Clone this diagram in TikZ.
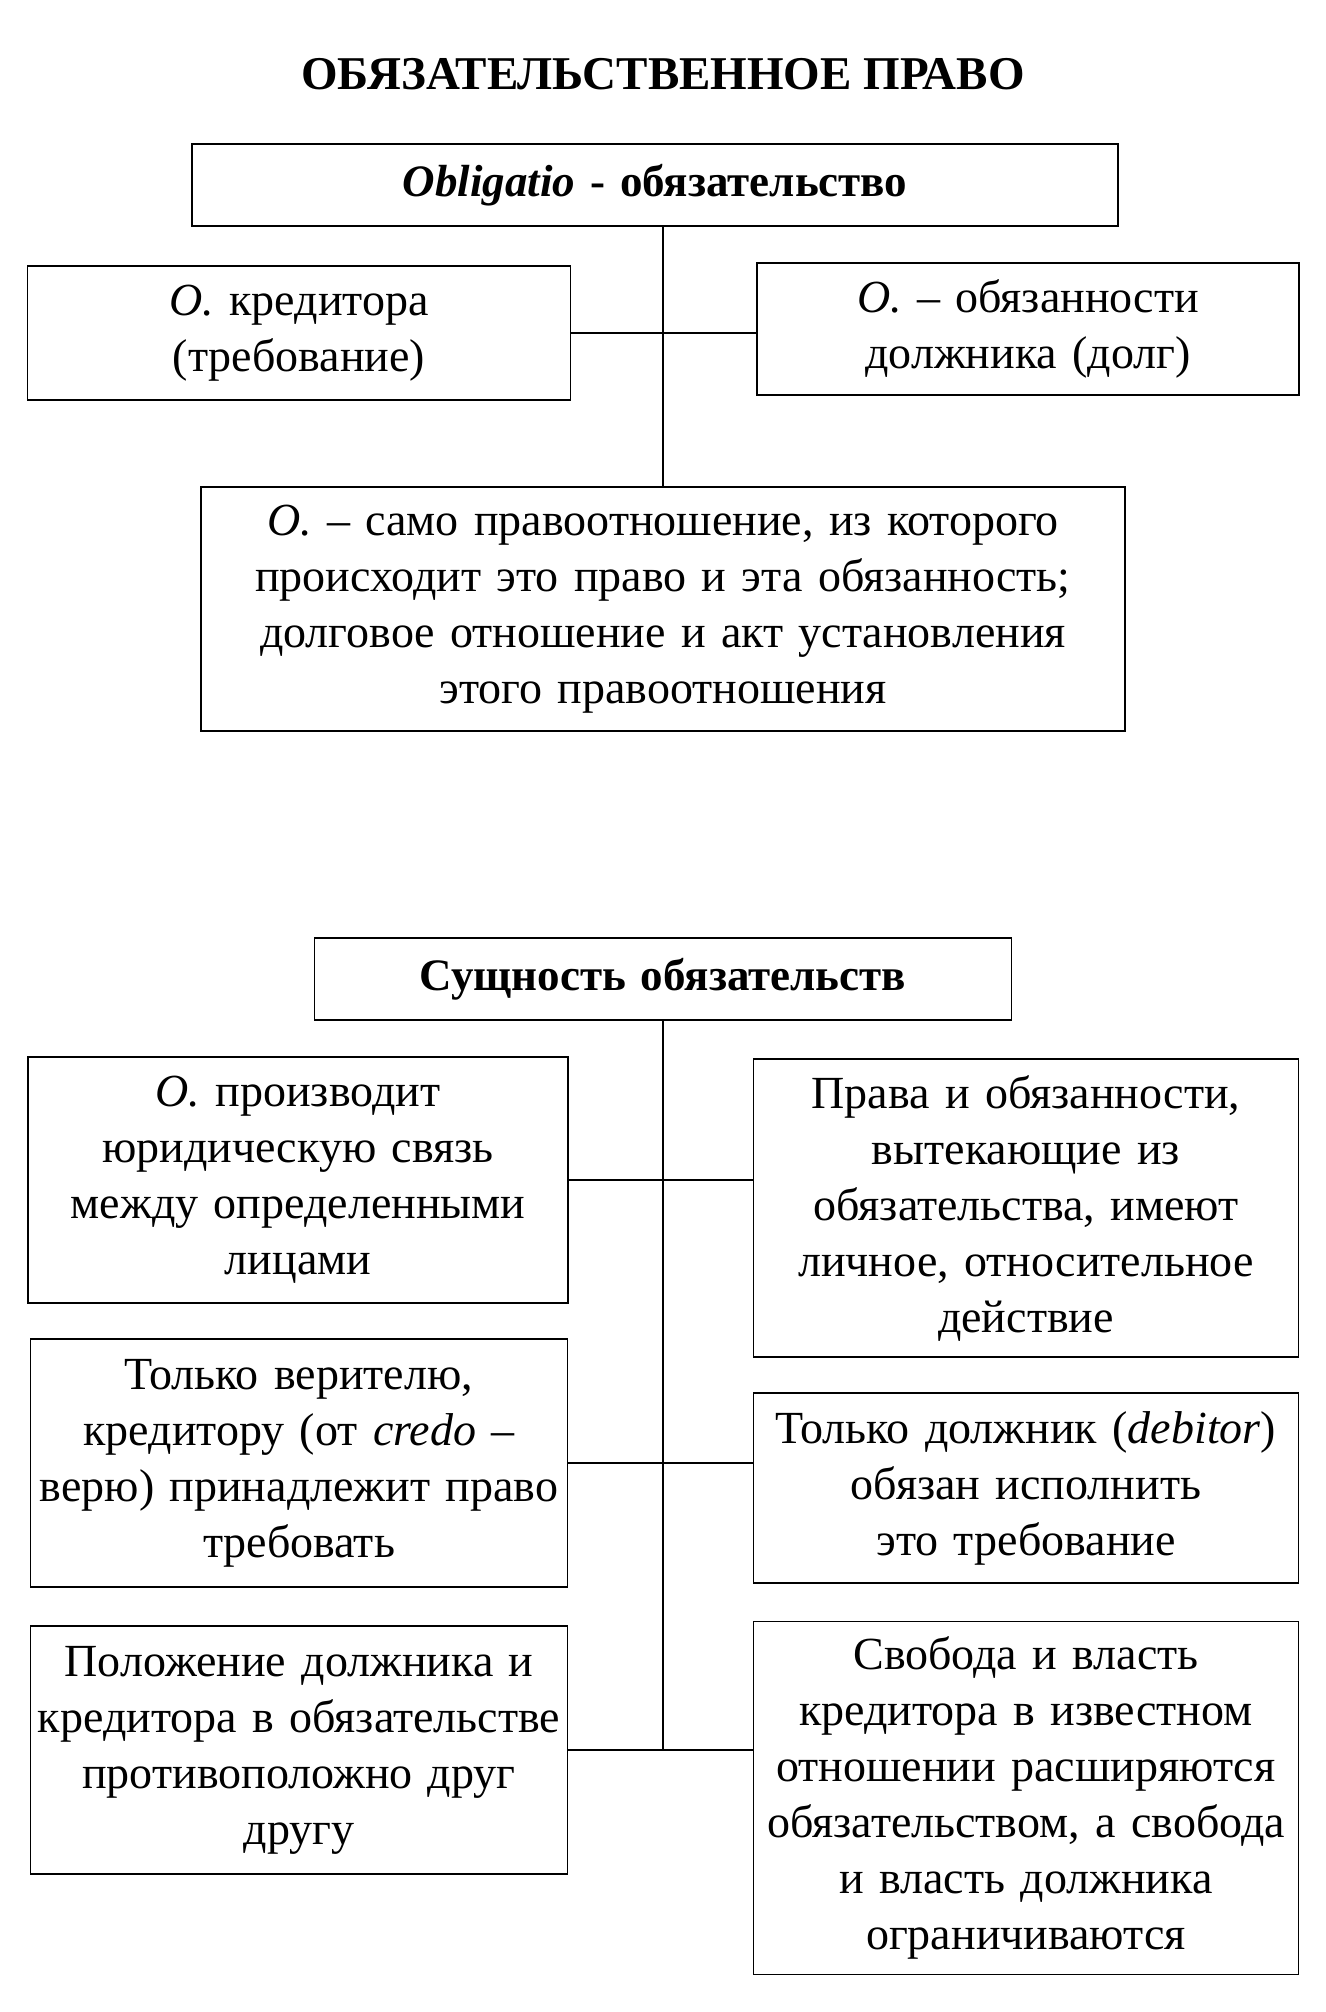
\documentclass[tikz,border=0pt]{standalone}
\usepackage{fontspec}
\setmainfont{Liberation Serif}
\usetikzlibrary{positioning}

\begin{document}
\begin{tikzpicture}[
  x=1pt, y=-1pt,
  box/.style 2 args={draw, line width=1.8pt, inner xsep=4pt, inner ysep=0pt,
    align=center, text width=#1, minimum height=#2,
    font=\fontsize{46}{56}\selectfont},
  head/.style={font=\bfseries\fontsize{45}{56}\selectfont},
  link/.style={line width=1.4pt}
]
\useasboundingbox (0,0) rectangle (1325,2012);

\node[head, font=\bfseries\fontsize{47}{56}\selectfont] (title) at (663,74) {ОБЯЗАТЕЛЬСТВЕННОЕ ПРАВО};
\node[box={918pt}{82pt}, head] (obl) at (655,185) {\textit{Obligatio} - обязательство};
\node[box={535pt}{134pt}] (kred) at (299,333) {\textit{О.} кредитора\\(требование)};
\node[box={534pt}{132pt}] (dolg) at (1028,329) {\textit{О.} – обязанности\\должника (долг)};
\node[box={916pt}{244pt}] (rel) at (663,609)
  {\textit{О.} – само правоотношение, из которого\\происходит это право и эта обязанность;\\долговое отношение и акт установления\\этого правоотношения};

\node[box={689pt}{82pt}, head] (sush) at (663,979) {Сущность обязательств};
\node[box={532pt}{246pt}] (l1) at (298,1180)
  {\textit{О.} производит\\юридическую связь\\между определенными\\лицами};
\node[box={537pt}{298pt}] (r1) at (1026,1208)
  {Права и обязанности,\\вытекающие из\\обязательства, имеют\\личное, относительное\\действие};
\node[box={529pt}{248pt}] (l2) at (299,1463)
  {Только верителю,\\кредитору (от \textit{credo} –\\верю) принадлежит право\\требовать};
\node[box={537pt}{190pt}] (r2) at (1026,1488)
  {Только должник (\textit{debitor})\\обязан исполнить\\это требование};
\node[box={529pt}{248pt}] (l3) at (299,1750)
  {Положение должника и\\кредитора в обязательстве\\противоположно друг\\другу};
\node[box={537pt}{353pt}] (r3) at (1026,1798)
  {Свобода и власть\\кредитора в известном\\отношении расширяются\\обязательством, а свобода\\и власть должника\\ограничиваются};

% connectors
\draw[link] (rel.north) -- (rel.north |- obl.south);
\draw[link] (kred.east) -- (kred.east -| dolg.west);
\draw[link] (sush.south) -- (sush.south |- l3.east);
\draw[link] (l1.east) -- (l1.east -| r1.west);
\draw[link] (l2.east) -- (l2.east -| r2.west);
\draw[link] (l3.east) -- (l3.east -| r3.west);
\end{tikzpicture}
\end{document}
